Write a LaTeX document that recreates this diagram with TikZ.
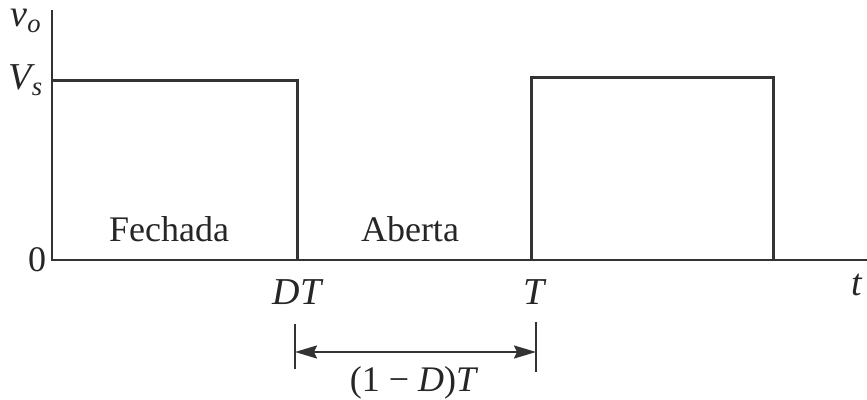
\documentclass[tikz,border=0pt]{standalone}
\usepackage{fontspec}
\setmainfont{Liberation Serif}
\usetikzlibrary{arrows.meta}
\begin{document}
\begin{tikzpicture}[x=0.5pt,y=-0.5pt,
  wave/.style={line width=1.5pt,draw=black!80,line join=miter},
  axisline/.style={line width=1.3pt,draw=black!80},
  lbl/.style={inner sep=0pt,anchor=base,font=\fontsize{18}{20}\selectfont,text=black!85},
  ilbl/.style={inner sep=0pt,anchor=base,font=\fontsize{19}{21}\selectfont\itshape,text=black!85},
  dimtick/.style={line width=1.1pt,draw=black!80},
  dimarrow/.style={line width=1.1pt,draw=black!80,{Stealth[length=11pt,width=6.5pt,inset=1.5pt]}-{Stealth[length=11pt,width=6.5pt,inset=1.5pt]}}]
\useasboundingbox (0,0) rectangle (867,400);
% axes
\coordinate (origin) at (52,260);
\coordinate (ytop) at (52,10);
\coordinate (xend) at (880,260);
\draw[axisline] (ytop) -- (origin) -- (xend);
% pulses
\coordinate (p1a) at (52,81);
\coordinate (p1b) at (297,81);
\coordinate (p1c) at (297,260);
\coordinate (p2a) at (531,260);
\coordinate (p2b) at (531,78);
\coordinate (p2c) at (773,78);
\coordinate (p2d) at (773,260);
\draw[wave] (p1a) -- (p1b) -- (p1c);
\draw[wave] (p2a) -- (p2b) -- (p2c) -- (p2d);
% labels
\node[ilbl] (vo) at (26,27) {v\textsubscript{o}};
\node[ilbl] (vs) at (26,90) {V\textsubscript{s}};
\node[lbl] (zero) at (37,272) {0};
\node[lbl] (fech) at (169,242) {Fechada};
\node[lbl] (abert) at (410,242) {Aberta};
\node[ilbl] (dt) at (297,305) {DT};
\node[ilbl] (tt) at (534,305) {T};
\node[ilbl] (tl) at (857,296) {t};
% dimension
\coordinate (d1a) at (295,324);
\coordinate (d1b) at (295,369);
\coordinate (d2a) at (536,322);
\coordinate (d2b) at (536,372);
\coordinate (a1) at (295,352);
\coordinate (a2) at (536,352);
\draw[dimtick] (d1a) -- (d1b);
\draw[dimtick] (d2a) -- (d2b);
\draw[dimarrow] (a1) -- (a2);
\node[lbl] (dim) at (414,392) {(1 − \textit{D})\textit{T}};
\end{tikzpicture}
\end{document}
